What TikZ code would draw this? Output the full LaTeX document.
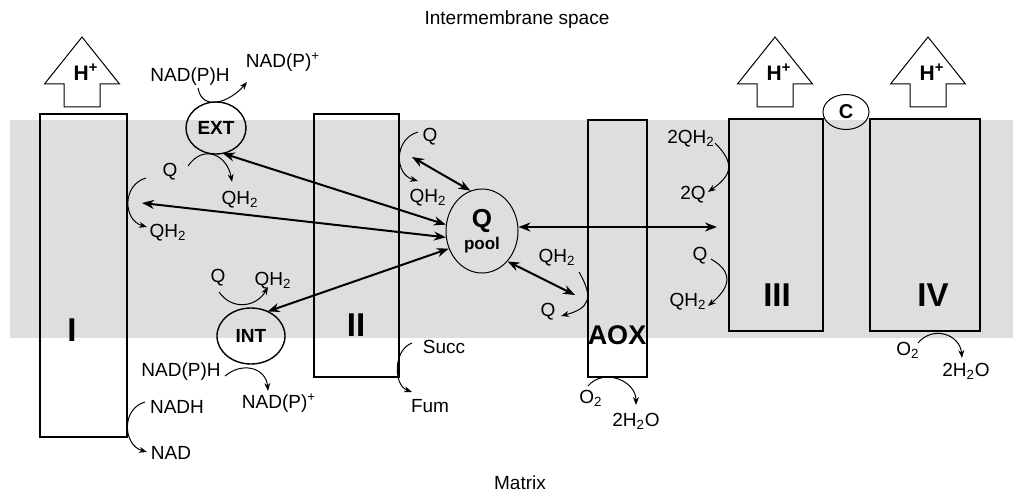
\documentclass[tikz,border=0pt]{standalone}
\usepackage{fontspec}
\setmainfont{Liberation Sans}
\usetikzlibrary{arrows.meta, shapes.geometric}

\begin{document}
\begin{tikzpicture}[
  x=0.5pt, y=-0.5pt,
  lbl/.style={font=\fontsize{9.5}{11}\selectfont, inner sep=1pt},
  cpx/.style={draw, line width=0.8pt, inner sep=0pt, outer sep=0pt},
  cpxlbl/.style={font=\fontsize{16.5}{18}\selectfont\bfseries, inner sep=0pt},
  carrier/.style={ellipse, draw, line width=0.7pt, inner sep=0pt, outer sep=0pt,
                  font=\fontsize{9.5}{11}\selectfont\bfseries},
  pump/.style={draw, line width=0.5pt, fill=white},
  hion/.style={font=\fontsize{10.5}{12}\selectfont\bfseries, inner sep=0pt},
  dbl/.style={{Stealth[length=6pt,width=4.5pt]}-{Stealth[length=6pt,width=4.5pt]},
              line width=1pt},
  rxn/.style={-{Stealth[length=4pt,width=3pt]}, line width=0.5pt}
]
\useasboundingbox (0,0) rectangle (1013,492);

% membrane band
\fill[black!13] (10,120) rectangle (1013,338);

\node[lbl] (ims) at (517,20) {Intermembrane space};
\node[lbl] (mtx) at (520,483) {Matrix};

% --- complexes ---
\node[cpx, minimum width=43.5pt, minimum height=161.5pt] (c1) at (83.5,275.5) {};
\node[cpxlbl] (c1-lbl) at (72,330) {I};
\node[cpx, minimum width=42.5pt, minimum height=131.5pt] (c2) at (356.5,245.5) {};
\node[cpxlbl] (c2-lbl) at (356,325) {II};
\node[cpx, minimum width=29.5pt, minimum height=128.5pt] (aox) at (617.5,248.5) {};
\node[cpxlbl, font=\fontsize{13.5}{15}\selectfont\bfseries] (aox-lbl) at (617,335) {AOX};
\node[cpx, minimum width=47pt, minimum height=106pt] (c3) at (776,225) {};
\node[cpxlbl] (c3-lbl) at (777,295) {III};
\node[cpx, minimum width=55pt, minimum height=106pt] (c4) at (925,225) {};
\node[cpxlbl] (c4-lbl) at (933,295) {IV};
\node[ellipse, draw, line width=0.5pt, minimum width=23pt, minimum height=17.5pt,
      inner sep=0pt, font=\fontsize{10}{11}\selectfont\bfseries] (cytc) at (846,112) {C};

% proton pumps
\foreach \cx in {82,775,928} {
  \draw[pump] (\cx,37) -- (\cx+37.5,84) -- (\cx+18,84) -- (\cx+18,107)
    -- (\cx-18,107) -- (\cx-18,84) -- (\cx-37.5,84) -- cycle;
  \node[hion] (hp\cx) at (\cx+4,72) {H\textsuperscript{+}};
}

% --- EXT / INT dehydrogenases ---
\node[carrier, minimum width=30pt, minimum height=26pt] (ext) at (216,128) {EXT};
\node[lbl] (nadph1) at (190,77) {NAD(P)H};
\node[lbl] (nadp1) at (283,62) {NAD(P)\textsuperscript{+}};
\node[lbl] (qa) at (170,172) {Q};
\node[lbl] (qh2a) at (240,200) {QH\textsubscript{2}};
\node[lbl] (qh2b) at (168,233) {QH\textsubscript{2}};

\node[carrier, minimum width=34pt, minimum height=28pt] (int) at (251,336) {INT};
\node[lbl] (qc) at (218,278) {Q};
\node[lbl] (qh2c) at (273,281) {QH\textsubscript{2}};
\node[lbl] (nadph2) at (181,372) {NAD(P)H};
\node[lbl] (nadp2) at (279,403) {NAD(P)\textsuperscript{+}};
\node[lbl] (nadh) at (177,407) {NADH};
\node[lbl] (nad) at (171,453) {NAD};

% --- around II ---
\node[lbl] (qd) at (430,137) {Q};
\node[lbl] (qh2d) at (428,198) {QH\textsubscript{2}};
\node[lbl] (succ) at (444,347) {Succ};
\node[lbl] (fum) at (430,406) {Fum};

% --- Q pool ---
\node[ellipse, draw, line width=0.5pt, minimum width=36pt, minimum height=42pt,
      inner sep=0pt, align=center, font=\bfseries] (pool) at (482,231)
      {{\fontsize{13}{13}\selectfont Q}\\[-1pt]{\fontsize{8.5}{9}\selectfont pool}};

% --- around AOX, III, IV ---
\node[lbl] (qh2e) at (557,258) {QH\textsubscript{2}};
\node[lbl] (qe) at (548,312) {Q};
\node[lbl] (o2a) at (591,398) {O\textsubscript{2}};
\node[lbl] (h2oa) at (636,421) {2H\textsubscript{2}O};
\node[lbl] (twoqh2) at (691,139) {2QH\textsubscript{2}};
\node[lbl] (twoq) at (693,195) {2Q};
\node[lbl] (qf) at (700,256) {Q};
\node[lbl] (qh2f) at (688,302) {QH\textsubscript{2}};
\node[lbl] (o2b) at (908,350) {O\textsubscript{2}};
\node[lbl] (h2ob) at (966,371) {2H\textsubscript{2}O};

% free ends of the pool arrows
\coordinate (siteI) at (142,203);
\coordinate (siteII) at (412,157);
\coordinate (siteAOX) at (575,295);
\coordinate (siteIII) at (717,227);

% ---- pool exchange ----
\draw[dbl] (ext.-75) -- (pool.170);
\draw[dbl] (siteI) -- (pool.190);
\draw[dbl] (int.56) -- (pool.208);
\draw[dbl] (siteII) -- (pool.106);
\draw[dbl] (siteAOX) -- (pool.-50);
\draw[dbl] (pool.east |- siteIII) -- (siteIII);

% ---- reactions ----
\draw[rxn] ([shift={(8,11)}]nadph1.center) to[out=-80, in=-130, looseness=1.3]
           ([shift={(-36,20)}]nadp1.center);
\draw[rxn] ([shift={(18,-6)}]qa.center) to[out=55, in=100, looseness=1.5]
           ([shift={(-8,-18)}]qh2a.center);
\draw[rxn] ([shift={(-24,6)}]qa.center) to[out=196, in=164, distance=12.5pt]
           ([shift={(-21,-6)}]qh2b.center);
\draw[rxn] ([shift={(1,14)}]qc.center) to[out=-55, in=-120, looseness=1.2]
           ([shift={(-5,6)}]qh2c.center);
\draw[rxn] ([shift={(44,4)}]nadph2.center) to[out=40, in=95, looseness=1.3]
           ([shift={(-11,-12)}]nadp2.center);
\draw[rxn] ([shift={(-32,-5)}]nadh.center) to[out=196, in=164, distance=12.5pt]
           ([shift={(-24,-1)}]nad.center);
\draw[rxn] ([shift={(-12,-5)}]qd.center) to[out=196, in=164, distance=12.5pt]
           ([shift={(-10,-17)}]qh2d.center);
\draw[rxn] ([shift={(-32,-4)}]succ.center) to[out=200, in=160, distance=10pt]
           ([shift={(-18,-14)}]fum.center);
\draw[rxn] ([shift={(22,14)}]qh2e.center) to[out=-60, in=15, looseness=1.6]
           ([shift={(13,4)}]qe.center);
\draw[rxn] ([shift={(24,4)}]twoqh2.center) to[out=-45, in=35, looseness=1.5]
           ([shift={(15,-3)}]twoq.center);
\draw[rxn] ([shift={(11,3)}]qf.center) to[out=-30, in=40, looseness=1.5]
           ([shift={(20,4)}]qh2f.center);
\draw[rxn] ([shift={(-3,-12)}]o2a.center) to[out=50, in=90, looseness=1.2]
           ([shift={(0,-16)}]h2oa.center);
\draw[rxn] ([shift={(10,-7)}]o2b.center) to[out=50, in=95, looseness=1.3]
           ([shift={(-4,-13)}]h2ob.center);

\end{tikzpicture}
\end{document}
